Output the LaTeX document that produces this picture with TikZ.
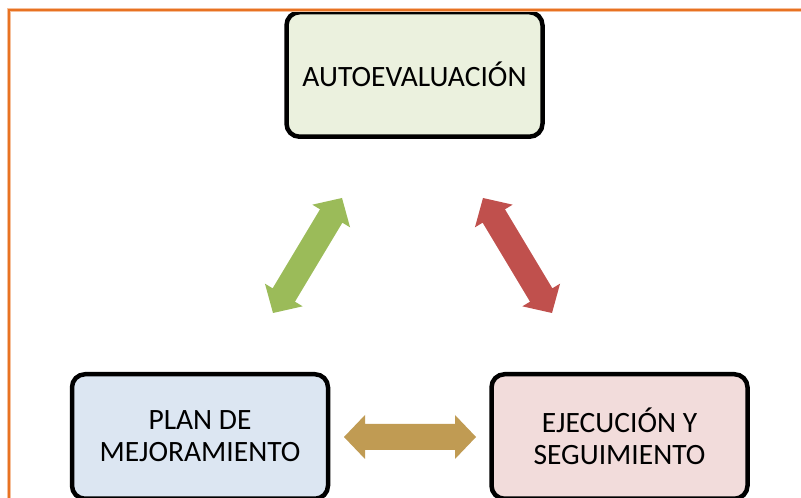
\documentclass[tikz,border=0pt]{standalone}
\usepackage{fontspec}
\setmainfont{Carlito}
\usetikzlibrary{calc}
\definecolor{orangeline}{RGB}{232,114,34}
\definecolor{boxgreen}{RGB}{235,241,222}
\definecolor{boxblue}{RGB}{220,230,242}
\definecolor{boxpink}{RGB}{242,220,219}
\definecolor{arrgreen}{RGB}{155,187,89}
\definecolor{arrred}{RGB}{192,80,77}
\definecolor{arrgold}{RGB}{192,155,83}
\newcommand\headlen{21pt}
\newcommand\headhalf{22pt}
\newcommand\shafthalf{13pt}
\newcommand\blockarrow[3]{%
  \fill[#3] (#1)
    -- ($(#1)!\headlen!(#2)!\headhalf!90:(#2)$)
    -- ($(#1)!\headlen!(#2)!\shafthalf!90:(#2)$)
    -- ($(#2)!\headlen!(#1)!\shafthalf!-90:(#1)$)
    -- ($(#2)!\headlen!(#1)!\headhalf!-90:(#1)$)
    -- (#2)
    -- ($(#2)!\headlen!(#1)!\headhalf!90:(#1)$)
    -- ($(#2)!\headlen!(#1)!\shafthalf!90:(#1)$)
    -- ($(#1)!\headlen!(#2)!\shafthalf!-90:(#2)$)
    -- ($(#1)!\headlen!(#2)!\headhalf!-90:(#2)$)
    -- cycle;}
\begin{document}
\begin{tikzpicture}[x=1pt,y=1pt,
  box/.style={draw=black, line width=4.5pt, rounded corners=13pt,
    minimum width=256pt, minimum height=124.5pt, align=center,
    inner sep=0pt, font=\fontsize{29.5}{32}\selectfont}]
\useasboundingbox (0,0) rectangle (801,498);
\clip (0,0) rectangle (801,498);
\fill[white] (0,0) rectangle (801,498);
% boxes
\node[box, fill=boxgreen] (auto) at (414.5,423.5) {AUTOEVALUACIÓN};
\node[box, fill=boxblue] (plan) at (200,61.5) {PLAN DE\\MEJORAMIENTO};
\node[box, fill=boxpink] (ejec) at (619.5,61.5) {EJECUCIÓN Y\\SEGUIMIENTO};
% orange frame
\draw[orangeline!45, line width=4.5pt] (9,-10) -- (9,488) -- (820,488);
\draw[orangeline, line width=2.2pt] (9,-10) -- (9,488) -- (820,488);
% arrow ends
\coordinate (g1) at (273,185);
\coordinate (g2) at (342,300);
\coordinate (r1) at (483,300);
\coordinate (r2) at (552,185);
\coordinate (y1) at (344,61);
\coordinate (y2) at (476,61);
\blockarrow{g1}{g2}{arrgreen}
\blockarrow{r1}{r2}{arrred}
\blockarrow{y1}{y2}{arrgold}
\end{tikzpicture}
\end{document}
